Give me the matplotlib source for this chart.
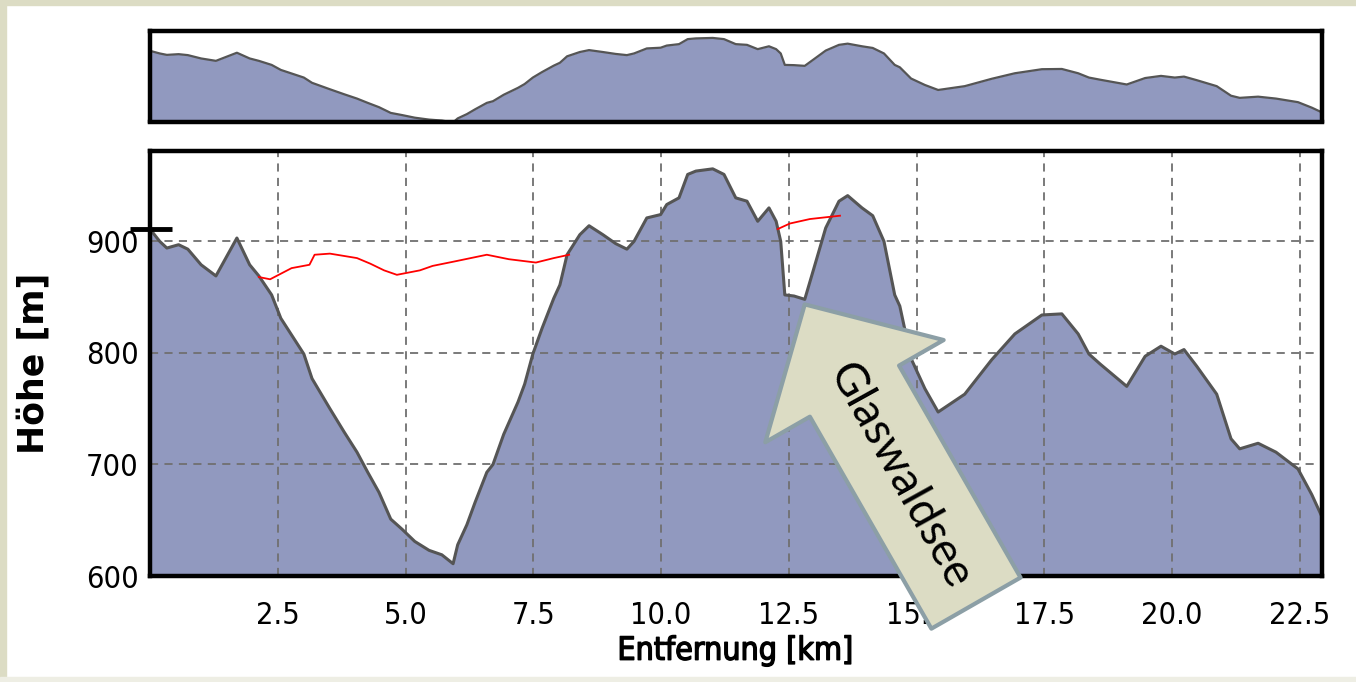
import matplotlib
matplotlib.use("Agg")
import matplotlib.pyplot as plt
from matplotlib import font_manager, patheffects
from matplotlib.font_manager import FontProperties
from matplotlib.patches import Rectangle

# elevation profile (km, m)
km = [0.0, 0.19, 0.33, 0.56, 0.74, 1.0, 1.29, 1.70, 1.95, 2.13, 2.38, 2.56, 3.01, 3.17,
      3.52, 3.80, 4.05, 4.26, 4.48, 4.71, 4.93, 5.18, 5.46, 5.71, 5.93, 6.02, 6.20, 6.36,
      6.59, 6.71, 6.92, 7.20, 7.33, 7.49, 7.67, 7.90, 8.02, 8.16, 8.41, 8.59, 8.86, 9.11,
      9.33, 9.47, 9.72, 9.99, 10.11, 10.35, 10.52, 10.68, 11.01, 11.23, 11.46, 11.68,
      11.89, 12.11, 12.25, 12.34, 12.42, 12.60, 12.81, 12.99, 13.22, 13.48, 13.65, 13.93,
      14.14, 14.36, 14.57, 14.67, 14.89, 15.16, 15.42, 15.94, 16.47, 16.92, 17.45, 17.84,
      18.16, 18.37, 18.59, 19.11, 19.47, 19.78, 20.05, 20.23, 20.48, 20.87, 21.15, 21.32,
      21.68, 22.03, 22.46, 22.73, 22.91]
hoehe = [911, 900, 894, 897, 893, 879, 869, 903, 879, 869, 852, 831, 799, 777,
         750, 729, 711, 693, 675, 651, 642, 631, 623, 619, 611, 628, 646, 666,
         693, 700, 727, 756, 772, 799, 822, 849, 861, 888, 906, 914, 906, 898,
         893, 900, 921, 924, 933, 939, 960, 963, 965, 960, 939, 936,
         918, 930, 918, 900, 852, 851, 848, 876, 912, 936, 941, 930,
         923, 900, 852, 842, 795, 768, 747, 763, 794, 817, 834, 835,
         817, 799, 790, 770, 797, 806, 799, 803, 788, 763, 723, 714,
         719, 711, 696, 673, 655]

# red hand-drawn lines (km, m)
rot1_km = [2.13, 2.35, 2.77, 3.12, 3.22, 3.52, 4.05, 4.31, 4.58, 4.83, 5.28, 5.53,
           5.96, 6.59, 7.02, 7.55, 7.90, 8.20]
rot1_h = [868, 866, 876, 879, 888, 889, 885, 880, 874, 870, 874, 878,
          882, 888, 884, 881, 885, 888]
rot2_km = [12.28, 12.52, 12.91, 13.50]
rot2_h = [911, 916, 920, 923]

xticks = [2.5, 5.0, 7.5, 10.0, 12.5, 15.0, 17.5, 20.0, 22.5]
yticks = [600, 700, 800, 900]

fill_c = "#9199bf"
line_c = "#555555"


# pick a narrow font if one is installed
def find_narrow(bold=False):
    for f in font_manager.fontManager.ttflist:
        is_bold = f.weight in ("bold", 700, "heavy", 800)
        if is_bold != bold or f.style != "normal":
            continue
        if "Narrow" in f.name or f.stretch in ("condensed", "semi-condensed", "extra-condensed"):
            return f.fname
    return None


def narrow_fp(size, bold=False):
    path = find_narrow(bold)
    if path:
        return FontProperties(fname=path, size=size)
    return FontProperties(family="Liberation Sans", size=size * 0.9,
                          weight="bold" if bold else "normal")


tick_fp = narrow_fp(22)
xlab_fp = narrow_fp(23)

fig = plt.figure(figsize=(13.56, 6.82), dpi=100)
fig.patch.set_facecolor("white")
# beige frame strips
fig.add_artist(Rectangle((0, 1 - 5 / 682), 1, 5 / 682, transform=fig.transFigure,
                         color="#dcdcc4", zorder=0))
fig.add_artist(Rectangle((0, 0), 6 / 1356, 1, transform=fig.transFigure,
                         color="#dcdcc4", zorder=0))
fig.add_artist(Rectangle((0, 0), 1, 5 / 682, transform=fig.transFigure,
                         color="#eeeee4", zorder=0))

#%% overview
ax0 = fig.add_axes([150 / 1356, (682 - 121.5) / 682, 1172 / 1356, 90.5 / 682])
ax0.fill_between(km, hoehe, 0, color=fill_c, lw=0)
ax0.plot(km, hoehe, color=line_c, lw=1.6)
ax0.set_xlim(0, 22.93)
ax0.set_ylim(615, 994)
ax0.set_xticks([])
ax0.set_yticks([])
for s in ax0.spines.values():
    s.set_linewidth(3.2)

#%% main profile
ax = fig.add_axes([150 / 1356, (682 - 576) / 682, 1172 / 1356, 425 / 682])
ax.fill_between(km, hoehe, 0, color=fill_c, lw=0, zorder=1)
ax.plot(km, hoehe, color=line_c, lw=2.2, zorder=3)
ax.plot(rot1_km, rot1_h, color="red", lw=1.3, zorder=4)
ax.plot(rot2_km, rot2_h, color="red", lw=1.3, zorder=4)
# start marker on the left spine
ax.plot([-0.39, 0.43], [hoehe[0], hoehe[0]], color="black", lw=3.5,
        clip_on=False, zorder=5, solid_capstyle="butt")

ax.set_xlim(0, 22.93)
ax.set_ylim(600, 981)
ax.set_xticks(xticks)
ax.set_xticklabels([f"{v:.1f}" for v in xticks])
ax.set_yticks(yticks)
ax.set_axisbelow(False)
ax.grid(True, color="#707070", lw=1.3, linestyle=(0, (4.5, 3.5)), zorder=2)
ax.tick_params(length=0)
ax.tick_params(axis="x", pad=18)
ax.tick_params(axis="y", pad=8)
for lab in ax.get_xticklabels() + ax.get_yticklabels():
    lab.set_fontproperties(tick_fp)
for s in ax.spines.values():
    s.set_linewidth(3.2)
    s.set_zorder(6)

ax.set_xlabel("Entfernung [km]", fontproperties=xlab_fp)
ax.xaxis.set_label_coords(0.5, -0.177)
ax.xaxis.label.set_va("center")
ax.xaxis.label.set_path_effects([patheffects.withStroke(linewidth=1.0, foreground="black")])
ax.set_ylabel("Höhe [m]", fontsize=25, family="DejaVu Sans", fontweight="bold")
ax.yaxis.set_label_coords(-0.0998, 0.5)
ax.yaxis.label.set_va("center")

# Glaswaldsee arrow
ax.annotate("", xy=(12.81, 843.5), xytext=(16.16, 575.7), annotation_clip=False,
            arrowprops=dict(arrowstyle="simple,head_length=72,head_width=148,tail_width=74",
                            mutation_scale=1, fc="#dcdcc4", ec="#8c9fa6", lw=3,
                            shrinkA=0, shrinkB=0),
            zorder=7)
ax.text(14.67, 689, "Glaswaldsee", rotation=-61, rotation_mode="anchor",
        ha="center", va="center", fontsize=33, family=["Lato", "DejaVu Sans"],
        color="black", zorder=8)

plt.savefig("out.png", dpi=100)
